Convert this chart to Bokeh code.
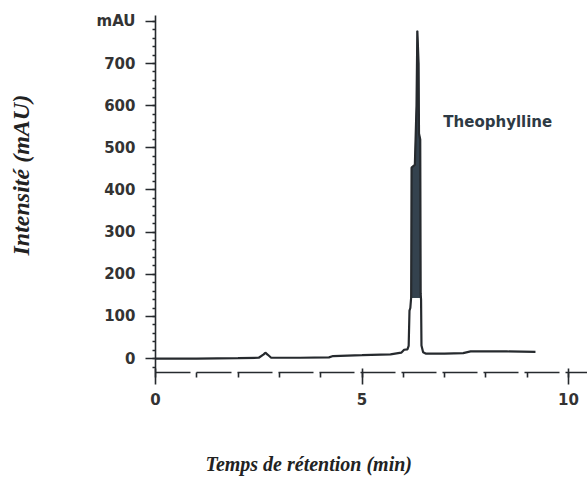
from bokeh.plotting import figure
from bokeh.models import Range1d, Label, FixedTicker, LinearAxis, Title
from bokeh.embed import file_html
from bokeh.resources import INLINE

# Chromatogram trace (retention time in min, intensity in mAU)
time_min = [0.0, 1.0, 2.0, 2.50, 2.62, 2.66, 2.72, 2.80, 3.5, 4.20, 4.30, 5.0, 5.69,
            5.95, 6.02, 6.10, 6.13, 6.15, 6.17, 6.19, 6.20, 6.28, 6.32, 6.34, 6.37,
            6.38, 6.41, 6.42, 6.43, 6.44, 6.48, 6.54, 7.0, 7.45, 7.63, 8.5, 9.2]
intensity = [0, 0, 1, 2, 10, 14, 9, 2, 2, 3, 6, 8, 10,
             14, 21, 22, 30, 114, 120, 145, 453, 460, 600, 778, 700,
             534, 520, 154, 140, 31, 15, 12, 12, 13, 17, 17, 16]

# Densely over-plotted part of the peak (drawn filled)
band_time = [6.20, 6.28, 6.32, 6.34, 6.37, 6.38, 6.41, 6.42, 6.20]
band_int = [453, 460, 600, 778, 700, 534, 520, 145, 145]

x_ticks = [0, 5, 10]
x_minor = [0, 1, 2, 3, 4, 5, 6, 7, 8, 9, 10]
y_ticks = [0, 100, 200, 300, 400, 500, 600, 700, 800]
y_minor = [-20, 0, 20, 40, 60, 80, 100, 120, 140, 160, 180, 200, 220, 240, 260, 280,
           300, 320, 340, 360, 380, 400, 420, 440, 460, 480, 500, 520, 540, 560, 580,
           600, 620, 640, 660, 680, 700, 720, 740, 760, 780, 800]
y_label_overrides = {800: "mAU"}

peak_name = "Theophylline"
peak_label_pos = (6.97, 562)
x_title = "Temps de rétention (min)"
y_title = "Intensité (mAU)"

ink = "#262a2e"

p = figure(width=587, height=479, output_backend="svg", toolbar_location=None,
           x_range=Range1d(0, 10.46), y_range=Range1d(-33, 814),
           min_border_left=155, min_border_right=0, min_border_top=15, min_border_bottom=107)
p.outline_line_color = None
p.xgrid.visible = False
p.ygrid.visible = False
p.background_fill_color = "white"
p.border_fill_color = "white"

p.patch(band_time, band_int, fill_color="#34424e", line_color="#34424e", line_width=1)
p.line(time_min, intensity, line_color=ink, line_width=2.2)

p.add_layout(Label(x=peak_label_pos[0], y=peak_label_pos[1], text=peak_name,
                   text_font="DejaVu Sans", text_font_style="bold", text_font_size="15px",
                   text_color="#2e3a44", text_baseline="middle", text_align="left"))

# X axis
xa = p.xaxis[0]
xa.ticker = FixedTicker(ticks=x_ticks, minor_ticks=x_minor)
xa.axis_line_color = ink
xa.axis_line_width = 1.6
xa.axis_line_dash = "35 6"
xa.major_tick_in = 4
xa.major_tick_out = 12
xa.minor_tick_in = 0
xa.minor_tick_out = 5
xa.major_tick_line_color = ink
xa.minor_tick_line_color = ink
xa.major_tick_line_width = 1.6
xa.minor_tick_line_width = 1.6
xa.major_label_standoff = 8
xa.major_label_text_font = "DejaVu Sans"
xa.major_label_text_font_style = "bold"
xa.major_label_text_font_size = "15px"
xa.major_label_text_color = "#333333"

# Y axis
ya = p.yaxis[0]
ya.ticker = FixedTicker(ticks=y_ticks, minor_ticks=y_minor)
ya.major_label_overrides = y_label_overrides
ya.axis_line_color = ink
ya.axis_line_width = 1.6
ya.major_tick_in = 0
ya.major_tick_out = 10
ya.minor_tick_in = 0
ya.minor_tick_out = 3
ya.major_tick_line_color = ink
ya.minor_tick_line_color = ink
ya.major_tick_line_width = 1.5
ya.minor_tick_line_width = 1.5
ya.major_label_standoff = 10
ya.major_label_text_font = "DejaVu Sans"
ya.major_label_text_font_style = "bold"
ya.major_label_text_font_size = "15px"
ya.major_label_text_color = "#333333"

# White (invisible) spacer axes, then the axis titles as offset side titles
def spacer(depth, at):
    return LinearAxis(ticker=FixedTicker(ticks=[at]), axis_line_color=None,
                      major_tick_line_color="white", minor_tick_line_color=None,
                      major_tick_in=0, major_tick_out=depth,
                      minor_tick_in=0, minor_tick_out=0, major_label_standoff=0,
                      major_label_overrides={at: ""},
                      major_label_text_font_size="0px")

p.add_layout(spacer(45, 10.3), "below")
p.add_layout(Title(text=x_title, align="left", offset=50, standoff=0, vertical_align="top",
                   text_font="Liberation Serif", text_font_style="bold italic",
                   text_font_size="20px", text_color="#222222"), "below")

p.add_layout(spacer(58, -25), "left")
p.add_layout(Title(text=y_title, align="left", offset=117, standoff=0, vertical_align="top",
                   text_font="Liberation Serif", text_font_style="bold italic",
                   text_font_size="24px", text_color="#222222"), "left")

open("out.html", "w").write(file_html(p, INLINE))
